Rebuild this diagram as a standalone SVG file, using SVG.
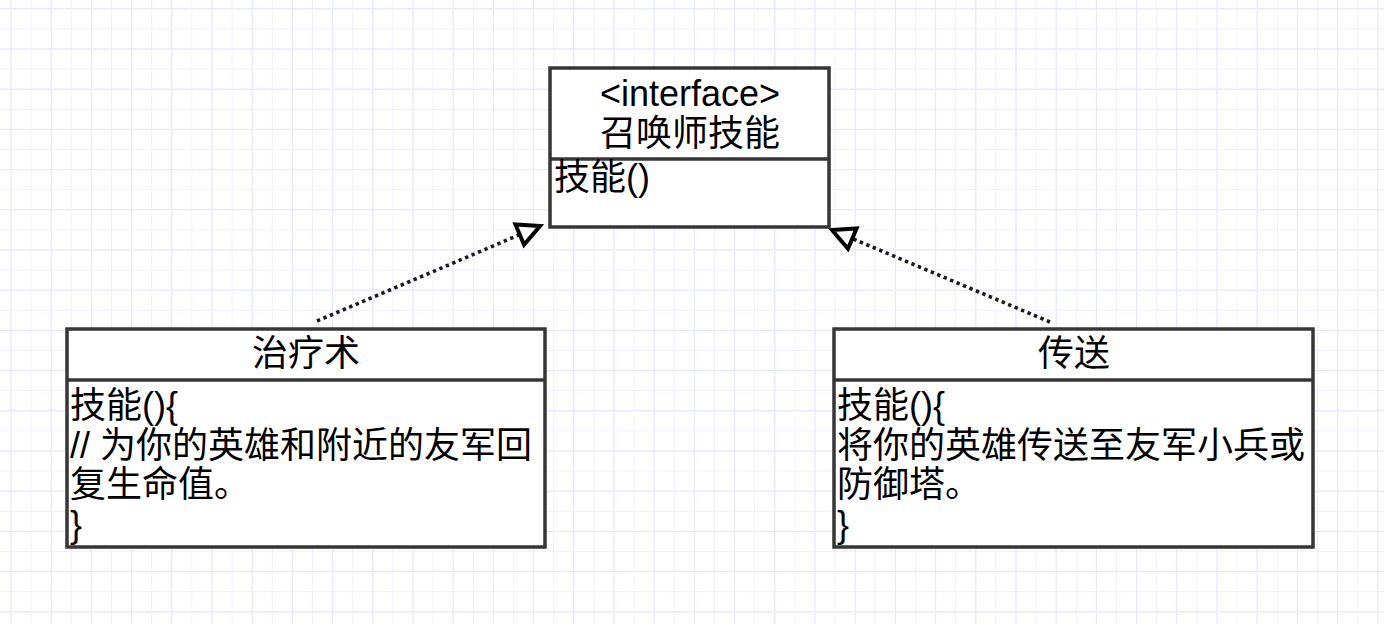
<svg xmlns="http://www.w3.org/2000/svg" width="1384" height="624" viewBox="0 0 1384 624">
<defs>
<style>
.box{fill:#ffffff;stroke:#363636;stroke-width:3.5}
.div{stroke:#363636;stroke-width:3.5}
.t{font-family:"Liberation Sans","Noto Sans CJK SC",sans-serif;font-size:36px;fill:#000000}
.c{text-anchor:middle}
.edge{fill:none;stroke:#1a1a1a;stroke-width:3.6;stroke-dasharray:3.4 3.6}
</style>
<pattern id="minor" width="20.1" height="20.1" patternUnits="userSpaceOnUse" x="10.5" y="8.3">
<path d="M0 0V20.1M0 0H20.1" fill="none" stroke="#f0f0ff" stroke-width="2"/>
</pattern>
<pattern id="major" width="40.2" height="40.2" patternUnits="userSpaceOnUse" x="10.5" y="8.3">
<path d="M0 0V40.2M0 0H40.2" fill="none" stroke="#e6e6fe" stroke-width="2"/>
</pattern>
<marker id="tri" markerUnits="userSpaceOnUse" markerWidth="40" markerHeight="40" viewBox="-30 -20 40 40" refX="0" refY="0" orient="auto">
<path d="M0 0L-22 -11L-22 11Z" fill="#ffffff" stroke="#000000" stroke-width="4" stroke-linejoin="miter"/>
</marker>
</defs>
<rect width="1384" height="624" fill="#ffffff"/>
<rect width="1384" height="624" fill="url(#minor)"/>
<rect width="1384" height="624" fill="url(#major)"/>
<g id="connectors">
<line class="edge" x1="317" y1="321" x2="540" y2="226" marker-end="url(#tri)"/>
<line class="edge" x1="1050" y1="322" x2="832" y2="230" marker-end="url(#tri)"/>
</g>
<g id="interface">
<rect class="box" x="550" y="68" width="279" height="159"/>
<line class="div" x1="550" y1="159" x2="829" y2="159"/>
<text class="t c" x="690" y="106">&lt;interface&gt;</text>
<text class="t c" x="690" y="146">召唤师技能</text>
<text class="t" x="554" y="190">技能()</text>
</g>
<g id="heal">
<rect class="box" x="67" y="329" width="478" height="218"/>
<line class="div" x1="67" y1="380" x2="545" y2="380"/>
<text class="t c" x="306" y="366">治疗术</text>
<text class="t" x="70" y="418">技能(){</text>
<text class="t" x="70" y="458">// 为你的英雄和附近的友军回</text>
<text class="t" x="70" y="497">复生命值。</text>
<text class="t" x="70" y="537">}</text>
</g>
<g id="teleport">
<rect class="box" x="834" y="329" width="479" height="218"/>
<line class="div" x1="834" y1="380" x2="1313" y2="380"/>
<text class="t c" x="1074" y="366">传送</text>
<text class="t" x="837" y="418">技能(){</text>
<text class="t" x="837" y="458">将你的英雄传送至友军小兵或</text>
<text class="t" x="837" y="497">防御塔。</text>
<text class="t" x="837" y="537">}</text>
</g>
</svg>
